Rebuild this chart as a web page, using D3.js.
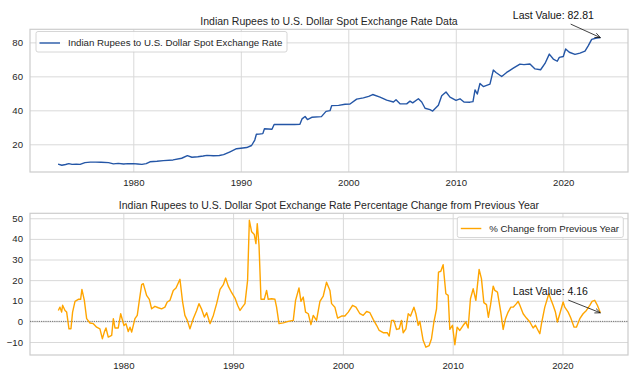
<!DOCTYPE html>
<html>
<head>
<meta charset="utf-8">
<script src="https://cdn.jsdelivr.net/npm/d3@7"></script>
<style>
  html, body { margin: 0; padding: 0; background: #fff; }
  svg { display: block; font-family: "Liberation Sans", Arial, sans-serif; }
</style>
</head>
<body>
<div id="chart"></div>
<script>
// INR per USD spot rate (decimal year, value)
const rateYears = [
  1973.0, 1973.35, 1973.7, 1974.0, 1974.3, 1974.7, 1975.05, 1975.5, 1976.0, 1976.5,
  1977.0, 1977.7, 1978.15, 1978.6, 1979.1, 1979.5, 1980.0, 1980.4, 1980.8, 1981.2,
  1981.55, 1982.2, 1982.8, 1983.7, 1984.5, 1985.03, 1985.45, 1986.0, 1986.5, 1986.85,
  1987.45, 1988.0, 1988.4, 1989.0, 1989.6, 1990.0, 1990.55, 1991.0, 1991.3, 1991.45,
  1991.7, 1992.05, 1992.2, 1992.9, 1993.1, 1994.0, 1995.0, 1995.5, 1995.7, 1995.98,
  1996.2, 1996.6, 1997.5, 1997.93, 1998.3, 1998.46, 1999.1, 1999.7, 2000.16, 2000.78,
  2001.4, 2001.9, 2002.27, 2002.95, 2003.57, 2004.2, 2004.44, 2004.81, 2005.43, 2005.74,
  2005.99, 2006.52, 2006.83, 2007.14, 2007.6, 2007.85, 2008.38, 2008.69, 2009.09, 2009.46,
  2010.02, 2010.39, 2010.76, 2011.32, 2011.6, 2011.79, 2012.0, 2012.25, 2012.56, 2013.18,
  2013.49, 2013.74, 2014.27, 2014.73, 2015.35, 2015.97, 2016.34, 2016.9, 2017.37, 2017.89,
  2018.3, 2018.7, 2019.07, 2019.44, 2019.63, 2020.0, 2020.22, 2020.56, 2021.09, 2021.55,
  2022.02, 2022.33, 2022.64, 2023.1, 2023.45
];
const rateValues = [
  8.3, 7.7, 8.1, 8.6, 8.2, 8.3, 8.2, 9.2, 9.5, 9.5,
  9.4, 9.2, 8.5, 8.8, 8.4, 8.6, 8.6, 8.4, 8.2, 8.6,
  9.7, 10.0, 10.4, 10.8, 11.8, 13.3, 12.4, 12.7, 13.1, 13.5,
  13.3, 13.4, 13.9, 15.6, 17.4, 17.7, 18.1, 19.3, 22.5, 25.9,
  26.0, 26.3, 29.2, 28.9, 31.7, 31.7, 31.7, 31.8, 35.0, 36.4,
  34.6, 35.9, 36.3, 39.4, 39.8, 42.8, 42.9, 43.6, 43.7, 46.6,
  47.3, 48.2, 49.3, 47.8, 46.0, 44.9, 46.2, 43.9, 43.8, 45.4,
  44.4, 46.8, 44.9, 41.2, 40.4, 39.6, 43.0, 48.6, 50.8, 47.8,
  45.9, 46.8, 44.9, 44.8, 45.1, 52.0, 49.6, 55.8, 54.0, 55.4,
  63.7, 62.3, 59.9, 62.3, 64.8, 67.2, 66.9, 67.3, 64.4, 63.9,
  67.6, 73.1, 70.2, 68.9, 71.2, 71.7, 76.1, 74.2, 72.9, 73.7,
  74.8, 78.1, 81.8, 82.6, 82.81
];

// % change from previous year (decimal year, value)
const pctYears = [
  1974.08, 1974.23, 1974.38, 1974.47, 1974.69, 1974.84, 1975.05, 1975.23, 1975.38, 1975.6,
  1975.9, 1976.11, 1976.23, 1976.45, 1976.66, 1976.96, 1977.27, 1977.57, 1977.87, 1978.09,
  1978.27, 1978.42, 1978.63, 1978.94, 1979.09, 1979.24, 1979.54, 1979.76, 1980.06, 1980.24,
  1980.45, 1980.61, 1980.76, 1981.06, 1981.27, 1981.46, 1981.67, 1981.82, 1982.12, 1982.37,
  1982.58, 1982.88, 1983.19, 1983.49, 1983.79, 1984.0, 1984.25, 1984.55, 1984.8, 1985.16,
  1985.4, 1985.61, 1985.83, 1986.07, 1986.37, 1986.68, 1986.89, 1987.14, 1987.38, 1987.59,
  1987.9, 1988.2, 1988.5, 1988.81, 1989.11, 1989.32, 1989.56, 1989.87, 1990.17, 1990.41,
  1990.63, 1990.84, 1991.08, 1991.32, 1991.48, 1991.69, 1991.93, 1992.08, 1992.2, 1992.36,
  1992.54, 1992.84, 1993.05, 1993.2, 1993.51, 1993.81, 1993.96, 1994.18, 1994.57, 1995.02,
  1995.48, 1995.69, 1996.0, 1996.18, 1996.39, 1996.6, 1996.85, 1997.09, 1997.3, 1997.6,
  1997.91, 1998.21, 1998.51, 1998.82, 1998.97, 1999.27, 1999.52, 1999.88, 2000.18, 2000.49,
  2000.88, 2001.19, 2001.55, 2001.85, 2002.16, 2002.46, 2002.76, 2003.07, 2003.31, 2003.67,
  2004.04, 2004.22, 2004.43, 2004.64, 2004.89, 2005.13, 2005.34, 2005.49, 2005.74, 2005.95,
  2006.16, 2006.47, 2006.65, 2006.86, 2007.01, 2007.31, 2007.56, 2007.86, 2008.07, 2008.29,
  2008.53, 2008.71, 2008.92, 2009.13, 2009.38, 2009.59, 2009.74, 2009.98, 2010.2, 2010.41,
  2010.65, 2010.96, 2011.2, 2011.41, 2011.62, 2011.87, 2012.11, 2012.41, 2012.62, 2012.84,
  2013.08, 2013.25, 2013.45, 2013.69, 2013.84, 2014.08, 2014.38, 2014.6, 2014.81, 2015.05,
  2015.3, 2015.51, 2015.81, 2015.96, 2016.12, 2016.42, 2016.72, 2017.03, 2017.33, 2017.54,
  2017.78, 2017.94, 2018.09, 2018.39, 2018.76, 2018.94, 2019.15, 2019.36, 2019.54, 2019.76,
  2020.06, 2020.21, 2020.52, 2020.76, 2021.06, 2021.27, 2021.58, 2021.88, 2022.18, 2022.49,
  2022.7, 2022.94, 2023.18, 2023.45
];
const pctValues = [
  5.3, 6.9, 4.5, 7.8, 5.3, 4.5, -3.6, -3.6, 4.5, 9.7,
  10.7, 10.7, 15.5, 10.2, 1.3, -0.8, -1.1, -2.8, -3.6, -8.4,
  -5.2, -3.2, -7.6, -6.8, 1.3, -3.2, -3.2, 3.7, -2.0, -1.1,
  -4.9, -2.8, -5.2, 1.3, 2.9, 10.2, 17.8, 18.3, 12.6, 10.7,
  6.1, 7.3, 6.6, 6.1, 6.9, 9.4, 10.2, 15.0, 16.2, 20.4,
  9.4, 2.9, 0.5, -3.6, 1.3, 5.3, 8.6, 5.8, 2.1, 4.2,
  -1.1, 2.9, 8.6, 15.5, 17.8, 21.0, 17.1, 13.9, 11.3, 7.8,
  5.3, 6.9, 8.6, 19.9, 49.0, 43.4, 42.1, 37.7, 47.4, 36.9,
  10.7, 10.7, 15.0, 10.7, 11.0, 10.7, 6.9, -1.1, -0.7, 0.0,
  0.5, 10.2, 16.2, 9.7, 11.8, 4.5, 3.7, -1.6, 2.9, 0.5,
  9.7, 12.3, 19.0, 15.0, 8.6, 6.9, 1.6, 2.6, 2.6, 4.5,
  7.8, 6.9, 3.7, 2.9, 4.8, 4.2, 1.0, -1.9, -4.4, -5.5,
  -5.5, -7.1, 0.5, 0.5, -3.9, -3.6, 0.5, -5.5, -3.6, 3.7,
  2.6, 6.9, 3.7, -1.9, 0.0, -9.2, -12.5, -11.7, -8.4, -0.3,
  6.1, 23.9, 24.3, 27.5, 13.4, 12.6, -3.9, -1.9, -11.3, -2.8,
  -4.4, -1.9, -0.3, -3.2, 11.0, 15.8, 10.2, 25.2, 20.7, 9.1,
  8.1, 2.0, 8.0, 17.1, 15.0, 14.2, 4.5, -3.9, 1.3, 4.5,
  6.9, 6.9, 8.6, 9.7, 7.8, 3.7, 1.6, -0.3, -3.2, -1.9,
  -4.4, -6.0, -1.1, 6.9, 13.4, 10.7, 7.8, 4.5, -0.3, 3.7,
  9.4, 6.9, 4.5, 1.6, -2.8, -2.8, 1.3, 3.7, 5.3, 7.8,
  9.7, 10.2, 7.8, 4.16
];

const xTickYears = [1980, 1990, 2000, 2010, 2020];
const rateTicks = [20, 40, 60, 80];
const pctTicks = [-10, 0, 10, 20, 30, 40, 50];

const width = 640;
const height = 384;
const textColor = '#262626';
const gridColor = '#d9d9d9';
const frameColor = '#cccccc';

const svg = d3.select('#chart')
  .append('svg')
  .attr('width', width)
  .attr('height', height);

svg.append('rect')
  .attr('width', width)
  .attr('height', height)
  .attr('fill', '#fff');

/**
 * Draws one panel: grid, frame, line, ticks, title, legend and last-value note.
 */
function drawPanel(cfg) {
  const x = d3.scaleLinear().domain(cfg.xDomain).range([cfg.left, cfg.right]);
  const y = d3.scaleLinear().domain(cfg.yDomain).range([cfg.bottom, cfg.top]);
  const g = svg.append('g');

  // grid lines
  const xAxis = d3.axisBottom(x)
    .tickValues(xTickYears)
    .tickFormat(d3.format('d'))
    .tickSize(-(cfg.bottom - cfg.top))
    .tickPadding(7);
  const gx = g.append('g')
    .attr('transform', `translate(0,${cfg.bottom})`)
    .call(xAxis);
  const yAxis = d3.axisLeft(y)
    .tickValues(cfg.yTicks)
    .tickSize(-(cfg.right - cfg.left))
    .tickPadding(7);
  const gy = g.append('g')
    .attr('transform', `translate(${cfg.left},0)`)
    .call(yAxis);

  [gx, gy].forEach((ax) => {
    ax.select('.domain').remove();
    ax.selectAll('.tick line')
      .attr('stroke', gridColor)
      .attr('stroke-width', 1);
    ax.selectAll('.tick text')
      .attr('fill', textColor)
      .style('font-size', '9.6px')
      .style('font-family', '"Liberation Sans", Arial, sans-serif');
  });

  // frame
  g.append('rect')
    .attr('x', cfg.left)
    .attr('y', cfg.top)
    .attr('width', cfg.right - cfg.left)
    .attr('height', cfg.bottom - cfg.top)
    .attr('fill', 'none')
    .attr('stroke', frameColor)
    .attr('stroke-width', 1.2);

  // zero reference line
  if (cfg.zeroLine) {
    g.append('line')
      .attr('x1', cfg.left)
      .attr('x2', cfg.right)
      .attr('y1', y(0))
      .attr('y2', y(0))
      .attr('stroke', '#555')
      .attr('stroke-width', 0.8)
      .attr('stroke-dasharray', '1.2,1');
  }

  const pts = cfg.years.map((yr, i) => [yr, cfg.values[i]]);
  const line = d3.line()
    .x((d) => x(d[0]))
    .y((d) => y(d[1]));

  g.append('path')
    .datum(pts)
    .attr('d', line)
    .attr('fill', 'none')
    .attr('stroke', cfg.color)
    .attr('stroke-width', 1.4)
    .attr('stroke-linejoin', 'round');

  // title
  g.append('text')
    .attr('x', (cfg.left + cfg.right) / 2)
    .attr('y', cfg.top - 4)
    .attr('text-anchor', 'middle')
    .attr('fill', textColor)
    .style('font-size', '10.5px')
    .text(cfg.title);

  // legend
  const lg = g.append('g')
    .attr('transform', `translate(${cfg.legendX},${cfg.legendY})`);
  lg.append('rect')
    .attr('width', cfg.legendW)
    .attr('height', 20.5)
    .attr('rx', 2)
    .attr('fill', '#fff')
    .attr('fill-opacity', 0.85)
    .attr('stroke', '#cccccc')
    .attr('stroke-width', 0.8);
  lg.append('line')
    .attr('x1', 3.5)
    .attr('x2', 24)
    .attr('y1', 11.5)
    .attr('y2', 11.5)
    .attr('stroke', cfg.color)
    .attr('stroke-width', 1.4);
  lg.append('text')
    .attr('x', 32)
    .attr('y', 14.8)
    .attr('fill', textColor)
    .style('font-size', '9.7px')
    .text(cfg.legend);

  // last value annotation
  const last = pts[pts.length - 1];
  const px = x(last[0]);
  const py = y(last[1]);
  g.append('text')
    .attr('x', px - 87.5)
    .attr('y', py + cfg.noteDy)
    .attr('fill', '#111')
    .style('font-size', '10.5px')
    .text(`Last Value: ${last[1]}`);

  const sx = px + cfg.arrowDx;
  const sy = py + cfg.arrowDy;
  const ang = Math.atan2(py - sy, px - sx);
  const head = 6;
  g.append('line')
    .attr('x1', sx)
    .attr('y1', sy)
    .attr('x2', px)
    .attr('y2', py)
    .attr('stroke', '#111')
    .attr('stroke-width', 0.8);
  g.append('path')
    .attr('d', `M${px - head * Math.cos(ang - 0.4)},${py - head * Math.sin(ang - 0.4)}`
      + `L${px},${py}`
      + `L${px - head * Math.cos(ang + 0.4)},${py - head * Math.sin(ang + 0.4)}`)
    .attr('fill', 'none')
    .attr('stroke', '#111')
    .attr('stroke-width', 0.8);
}

drawPanel({
  years: rateYears,
  values: rateValues,
  xDomain: [1970.39, 2026.02],
  yDomain: [3.7, 87.7],
  yTicks: rateTicks,
  left: 30,
  right: 628,
  top: 29.3,
  bottom: 172,
  color: '#2456a6',
  title: 'Indian Rupees to U.S. Dollar Spot Exchange Rate Data',
  legend: 'Indian Rupees to U.S. Dollar Spot Exchange Rate',
  legendX: 36,
  legendY: 31.5,
  legendW: 251,
  noteDy: -18.7,
  arrowDx: -29.7,
  arrowDy: -13.5,
  zeroLine: false,
});

drawPanel({
  years: pctYears,
  values: pctValues,
  xDomain: [1971.5, 2025.97],
  yDomain: [-16.3, 52.4],
  yTicks: pctTicks,
  left: 30,
  right: 628,
  top: 213.3,
  bottom: 355,
  color: '#ffa500',
  title: 'Indian Rupees to U.S. Dollar Spot Exchange Rate Percentage Change from Previous Year',
  legend: '% Change from Previous Year',
  legendX: 457.3,
  legendY: 217,
  legendW: 166,
  noteDy: -18.2,
  arrowDx: -32,
  arrowDy: -12.7,
  zeroLine: true,
});
</script>
</body>
</html>
